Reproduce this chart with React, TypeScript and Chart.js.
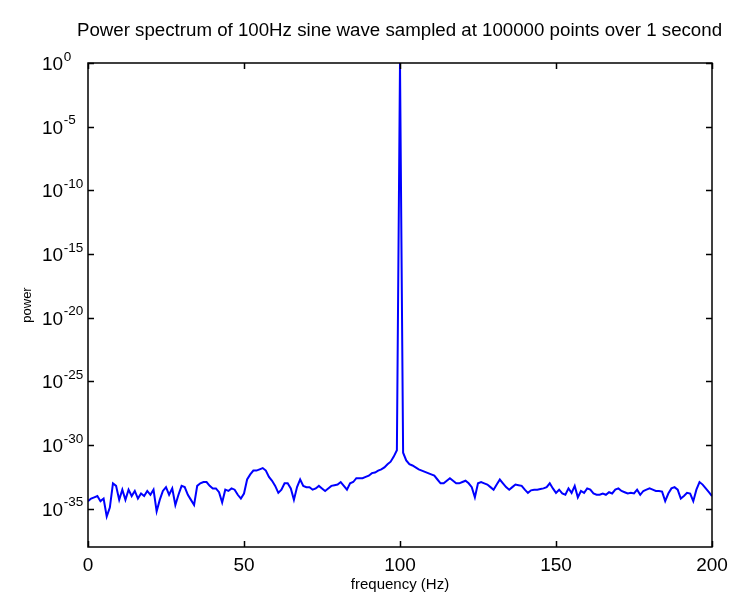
import React, { useEffect, useRef } from "react";
import { Chart, registerables } from "chart.js";

Chart.register(...registerables);

const TITLE = "Power spectrum of 100Hz sine wave sampled at 100000 points over 1 second";
const X_LABEL = "frequency (Hz)";
const Y_LABEL = "power";
const X_TICKS = [0, 50, 100, 150, 200];
const Y_TICK_EXPONENTS = [0, -5, -10, -15, -20, -25, -30, -35];
const Y_MIN = 1e-38;
const Y_MAX = 1;

// frequency bins (Hz), 1 Hz resolution
const FREQUENCIES = Array.from({ length: 201 }, (_, i) => i);

// log10(power), one value per 1 Hz bin
const POWER_LOG10 = [
  -34.4, -34.2, -34.1, -34.0, -34.4, -34.2, -35.6, -34.9, -33.0, -33.2,
  -34.3, -33.5, -34.3, -33.5, -34.0, -33.6, -34.2, -33.8, -34.0, -33.6,
  -33.9, -33.5, -35.2, -34.3, -33.6, -33.3, -33.9, -33.4, -34.7, -33.9,
  -33.2, -33.3, -33.9, -34.3, -34.7, -33.2, -33.0, -32.9, -32.9, -33.2,
  -33.4, -33.4, -33.7, -34.5, -33.5, -33.6, -33.4, -33.5, -33.9, -34.2,
  -33.8, -32.7, -32.3, -32.0, -32.0, -31.9, -31.8, -32.0, -32.5, -32.8,
  -33.2, -33.75, -33.5, -33.0, -33.0, -33.4, -34.3, -33.3, -32.7, -33.2,
  -33.3, -33.3, -33.5, -33.4, -33.2, -33.4, -33.6, -33.4, -33.2, -33.15,
  -33.1, -32.9, -33.2, -33.5, -33.0, -32.9, -32.6, -32.6, -32.6, -32.5,
  -32.4, -32.2, -32.15, -32.0, -31.9, -31.75, -31.5, -31.3, -30.9, -30.4,
  0, -30.6, -31.2, -31.5, -31.6, -31.75, -31.9, -32.0, -32.1, -32.2,
  -32.3, -32.4, -32.7, -33.0, -33.0, -32.8, -32.6, -32.8, -33.0, -33.0,
  -32.9, -32.8, -33.0, -33.3, -34.1, -33.0, -32.9, -33.0, -33.1, -33.3,
  -33.5, -33.1, -32.7, -33.0, -33.3, -33.5, -33.3, -33.1, -33.15, -33.2,
  -33.5, -33.75, -33.55, -33.5, -33.5, -33.45, -33.4, -33.3, -33.0, -33.4,
  -33.75, -33.5, -33.8, -33.9, -33.4, -33.75, -33.2, -34.1, -33.6, -33.75,
  -33.4, -33.5, -33.8, -33.9, -33.9, -33.8, -33.9, -33.7, -33.8, -33.5,
  -33.4, -33.6, -33.7, -33.8, -33.75, -33.8, -33.5, -33.9, -33.6, -33.5,
  -33.4, -33.5, -33.6, -33.6, -33.65, -34.4, -33.8, -33.4, -33.3, -33.5,
  -34.2, -34.0, -33.75, -33.8, -34.4, -33.5, -32.9, -33.1, -33.4, -33.7,
  -34.0,
];

const POWER = POWER_LOG10.map((e) => Math.pow(10, e));

const FONT = '"Liberation Sans", Arial, Helvetica, sans-serif';

const matlabFrame = {
  id: "matlabFrame",
  afterDatasetsDraw(chart: any) {
    const { ctx, chartArea: a, scales } = chart;
    const xs = scales.x;
    const ys = scales.y;
    ctx.save();
    ctx.strokeStyle = "#000";
    ctx.lineWidth = 1.5;
    ctx.strokeRect(a.left, a.top, a.right - a.left, a.bottom - a.top);
    const tl = 6;
    ctx.beginPath();
    X_TICKS.forEach((v) => {
      const px = Math.round(xs.getPixelForValue(v)) + 0.5;
      ctx.moveTo(px, a.bottom);
      ctx.lineTo(px, a.bottom - tl);
      ctx.moveTo(px, a.top);
      ctx.lineTo(px, a.top + tl);
    });
    Y_TICK_EXPONENTS.forEach((e) => {
      const py = Math.round(ys.getPixelForValue(Math.pow(10, e))) + 0.5;
      ctx.moveTo(a.left, py);
      ctx.lineTo(a.left + tl, py);
      ctx.moveTo(a.right, py);
      ctx.lineTo(a.right - tl, py);
    });
    ctx.stroke();
    ctx.restore();
  },
  afterDraw(chart: any) {
    const { ctx, chartArea: a, scales } = chart;
    const ys = scales.y;
    ctx.save();
    ctx.fillStyle = "#000";
    // y tick labels with superscript exponents
    Y_TICK_EXPONENTS.forEach((e) => {
      const py = ys.getPixelForValue(Math.pow(10, e));
      ctx.font = `19px ${FONT}`;
      ctx.textAlign = "left";
      ctx.textBaseline = "alphabetic";
      ctx.fillText("10", 42, py + 7);
      const w = ctx.measureText("10").width;
      ctx.font = `13.5px ${FONT}`;
      ctx.fillText(String(e), 42 + w + 0.5, py - 2.5);
    });
    // title
    ctx.font = `18.7px ${FONT}`;
    ctx.textAlign = "center";
    ctx.textBaseline = "middle";
    ctx.fillText(TITLE, 399.5, 31);
    // x label
    ctx.font = `15px ${FONT}`;
    ctx.fillText(X_LABEL, (a.left + a.right) / 2, 585);
    // y label
    ctx.font = `13px ${FONT}`;
    ctx.translate(27, (a.top + a.bottom) / 2);
    ctx.rotate(-Math.PI / 2);
    ctx.fillText(Y_LABEL, 0, 0);
    ctx.restore();
  },
};

export default function App() {
  const canvasRef = useRef<HTMLCanvasElement | null>(null);

  useEffect(() => {
    document.body.style.margin = "0";
    const canvas = canvasRef.current;
    if (!canvas) return;
    const chart = new Chart(canvas, {
      type: "line",
      data: {
        datasets: [
          {
            label: "power",
            data: FREQUENCIES.map((f, i) => ({ x: f, y: POWER[i] })),
            borderColor: "#0000ff",
            backgroundColor: "#0000ff",
            borderWidth: 2,
            pointRadius: 0,
            tension: 0,
            fill: false,
          },
        ],
      },
      options: {
        animation: false,
        responsive: false,
        maintainAspectRatio: false,
        layout: { padding: { left: 0, right: 18, top: 63, bottom: 0 } },
        plugins: {
          legend: { display: false },
          tooltip: { enabled: false },
          title: { display: false },
        },
        scales: {
          x: {
            type: "linear",
            min: 0,
            max: 200,
            grid: { display: false, drawTicks: false },
            border: { display: false },
            ticks: {
              stepSize: 50,
              autoSkip: false,
              maxRotation: 0,
              color: "#000",
              padding: 7,
              font: { size: 19, family: FONT },
              callback: (v: any) => String(v),
            },
            afterFit: (s: any) => {
              s.height = 48;
              s.paddingLeft = 0;
              s.paddingRight = 0;
            },
          },
          y: {
            type: "logarithmic",
            min: Y_MIN,
            max: Y_MAX,
            grid: { display: false, drawTicks: false },
            border: { display: false },
            ticks: { display: false },
            afterFit: (s: any) => {
              s.width = 88;
              s.paddingTop = 0;
              s.paddingBottom = 0;
            },
          },
        },
      },
      plugins: [matlabFrame],
    });
    return () => chart.destroy();
  }, []);

  return (
    <div style={{ width: 730, height: 595, background: "#fff" }}>
      <canvas ref={canvasRef} width={730} height={595} style={{ display: "block" }} />
    </div>
  );
}
